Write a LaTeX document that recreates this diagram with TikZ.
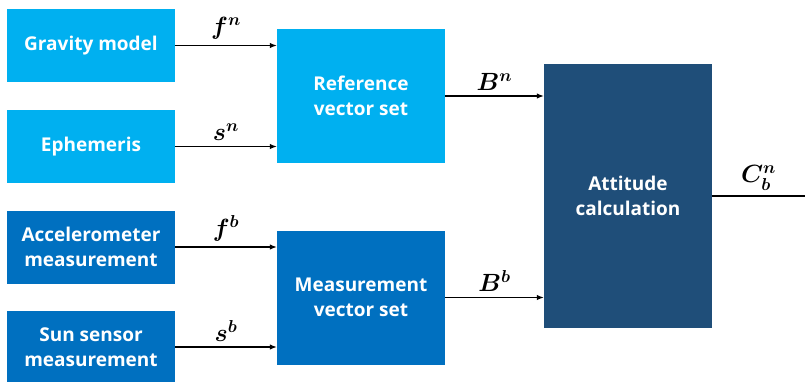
\documentclass[tikz,border=0pt]{standalone}
\usepackage{fontspec}
\setmainfont{Open Sans}[BoldFont={* Bold}]
\usepackage{amsmath,bm}
\usetikzlibrary{arrows.meta,positioning}
\definecolor{lightblk}{RGB}{0,176,240}
\definecolor{midblk}{RGB}{0,112,192}
\definecolor{darkblk}{RGB}{31,78,121}

\begin{document}
\begin{tikzpicture}[x=1pt,y=-1pt,
    block/.style={fill=#1,text=white,align=center,inner sep=0pt,
      font=\fontsize{19}{25}\selectfont\bfseries},
    srcbox/.style={block=#1,minimum width=168pt,minimum height=73pt},
    sig/.style={-{Latex[length=7pt,width=5.5pt]},line width=1.2pt},
    lab/.style={midway,above=2pt,font=\fontsize{24}{24}\selectfont\boldmath}]
    \useasboundingbox (0,0) rectangle (805,381);

    % Sources: reference side
    \node[srcbox=lightblk] (grav) at (91,45.5) {Gravity model};
    \node[srcbox=lightblk] (ephem) at (91,146.5) {Ephemeris};
    \node[block=lightblk,minimum width=168pt,minimum height=134pt] (refset) at (361,96) {Reference\\vector set};

    % Sources: measurement side
    \node[srcbox=midblk] (accel) at (91,247) {Accelerometer\\measurement};
    \node[srcbox=midblk] (sun) at (91,347) {Sun sensor\\measurement};
    \node[block=midblk,minimum width=168pt,minimum height=134pt] (measset) at (361,297.5) {Measurement\\vector set};

    % Attitude
    \node[block=darkblk,minimum width=168pt,minimum height=264pt] (att) at (628,196) {Attitude\\calculation};
    \coordinate (out) at (805,196);

    % Arrows
    \draw[sig] (grav.east) -- (grav.east -| refset.west) node[lab] {$\bm{f}^{\bm{n}}$};
    \draw[sig] (ephem.east) -- (ephem.east -| refset.west) node[lab] {$\bm{s}^{\bm{n}}$};
    \draw[sig] (accel.east) -- (accel.east -| measset.west) node[lab] {$\bm{f}^{\bm{b}}$};
    \draw[sig] (sun.east) -- (sun.east -| measset.west) node[lab] {$\bm{s}^{\bm{b}}$};
    \draw[sig] (refset.east) -- (refset.east -| att.west) node[lab] {$\bm{B}^{\bm{n}}$};
    \draw[sig] (measset.east) -- (measset.east -| att.west) node[lab] {$\bm{B}^{\bm{b}}$};
    \draw[line width=1.2pt] (att.east) -- (out) node[lab] {$\bm{C}^{\bm{n}}_{\bm{b}}$};
\end{tikzpicture}
\end{document}
